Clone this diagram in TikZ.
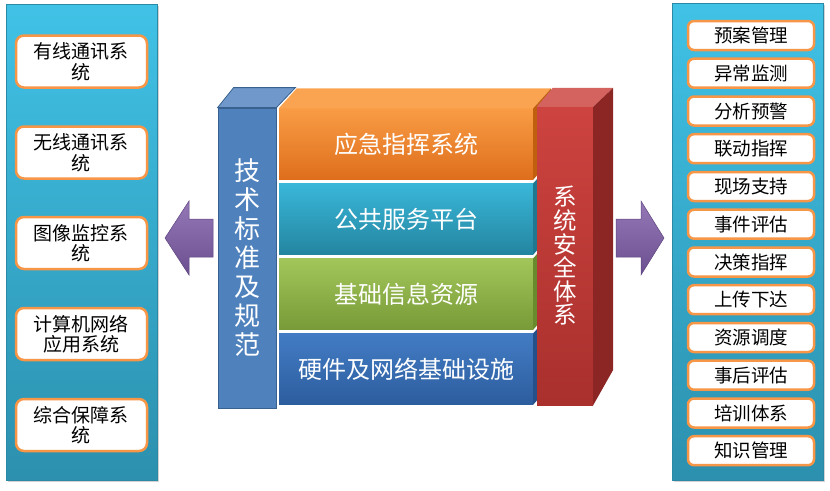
\documentclass[tikz,border=0pt]{standalone}
\usepackage{fontspec}
\newfontfamily\cjk{Noto Sans CJK SC}
\usepackage{xcolor}
\usepackage{tikz}
\usetikzlibrary{calc, shadows}

\definecolor{panelTop}{HTML}{40C2E6}
\definecolor{panelBot}{HTML}{2C90AE}
\definecolor{panelEdge}{HTML}{2A8AA6}
\definecolor{boxEdge}{HTML}{F79646}
\definecolor{stdFront}{HTML}{4F81BD}
\definecolor{stdTop}{HTML}{7098CB}
\definecolor{stdEdge}{HTML}{38618F}
\definecolor{orTop}{HTML}{F99C45}
\definecolor{orBot}{HTML}{DE6E1C}
\definecolor{orRoof}{HTML}{FAA451}
\definecolor{orSide}{HTML}{C0600F}
\definecolor{tlTop}{HTML}{3AB7D9}
\definecolor{tlBot}{HTML}{2385A0}
\definecolor{tlSide}{HTML}{1F7790}
\definecolor{grTop}{HTML}{A3C65A}
\definecolor{grBot}{HTML}{789A38}
\definecolor{grSide}{HTML}{6A8A2E}
\definecolor{blTop}{HTML}{437CC4}
\definecolor{blBot}{HTML}{2C5D9E}
\definecolor{blSide}{HTML}{25508A}
\definecolor{rdTop}{HTML}{CD433F}
\definecolor{rdBot}{HTML}{A9302D}
\definecolor{rdRoof}{HTML}{D4625E}
\definecolor{rdSide}{HTML}{8C2624}
\definecolor{arTop}{HTML}{9478B6}
\definecolor{arBot}{HTML}{6B4F90}
\definecolor{arEdge}{HTML}{5E467F}

\begin{document}
\begin{tikzpicture}[
    x=1pt, y=-1pt,
    font=\cjk
]
    \useasboundingbox (0,0) rectangle (830,490);

    % Styles for panels and boxes
    \tikzstyle{panel} = [draw=panelEdge, line width=0.8pt, rectangle, top color=panelTop, bottom color=panelBot, minimum width=151pt, drop shadow={opacity=0.35, shadow xshift=1.5pt, shadow yshift=-2pt}]
    \tikzstyle{sysbox} = [draw=boxEdge, line width=2.5pt, fill=white, rounded corners=8pt, minimum width=131pt, minimum height=52pt, inner sep=1pt, align=center, font={\cjk\fontsize{19}{20.5}\selectfont}]
    \tikzstyle{taskbox} = [sysbox, minimum width=126pt, minimum height=29pt, rounded corners=6pt, font={\cjk\fontsize{18.5}{20}\selectfont}]
    \tikzstyle{layer} = [rectangle, minimum width=254pt, minimum height=71pt, inner sep=0pt, text=white, font={\cjk\fontsize{24}{28}\selectfont}]
    \tikzstyle{pillar} = [rectangle, inner sep=0pt, align=center, text=white]

    % Panels
    \node [panel, minimum height=476pt] (SysPanel) at (81.5,242) {};
    \node [panel, minimum height=477pt] (TaskPanel) at (747.5,241.5) {};

    % Left boxes (systems)
    \node [sysbox] (Wired) at (81.5,61.5) {有线通讯系\\统};
    \node [sysbox] (Wireless) at (81.5,152.5) {无线通讯系\\统};
    \node [sysbox] (Video) at (81.5,243) {图像监控系\\统};
    \node [sysbox] (Network) at (81.5,334) {计算机网络\\应用系统};
    \node [sysbox] (Support) at (81.5,425) {综合保障系\\统};

    % Right boxes (functions)
    \node [taskbox] (Plan) at (751,35.5) {预案管理};
    \node [taskbox] (Monitor) at (751,73.2) {异常监测};
    \node [taskbox] (Warn) at (751,111) {分析预警};
    \node [taskbox] (Link) at (751,148.7) {联动指挥};
    \node [taskbox] (Scene) at (751,186.5) {现场支持};
    \node [taskbox] (Assess) at (751,224.2) {事件评估};
    \node [taskbox] (Decide) at (751,262) {决策指挥};
    \node [taskbox] (Relay) at (751,299.7) {上传下达};
    \node [taskbox] (Dispatch) at (751,337.5) {资源调度};
    \node [taskbox] (Review) at (751,375.2) {事后评估};
    \node [taskbox] (Train) at (751,413) {培训体系};
    \node [taskbox] (Know) at (751,450.7) {知识管理};

    % Standards column (left of the stack)
    \node [pillar, minimum width=58pt, minimum height=300pt, fill=stdFront, draw=stdEdge, line width=0.8pt,
           font={\cjk\fontsize{26}{29}\selectfont}] (TechStd) at (247,258) {技\\术\\标\\准\\及\\规\\范};
    \fill [stdTop, draw=stdEdge, line width=0.8pt] (TechStd.north west) -- ++(16,-20) -- ($(TechStd.north east)+(19,-20)$) -- (TechStd.north east) -- cycle;

    % Layers
    \node [layer, top color=orTop, bottom color=orBot] (Cmd) at (406,144) {应急指挥系统};
    \node [layer, top color=tlTop, bottom color=tlBot] (Service) at (406,219) {公共服务平台};
    \node [layer, top color=grTop, bottom color=grBot] (Info) at (406,294) {基础信息资源};
    \node [layer, top color=blTop, bottom color=blBot] (Infra) at (406,369) {硬件及网络基础设施};

    \fill [orRoof] (Cmd.north west) -- ++(18,-20) -- ($(Cmd.north east)+(18,-20)$) -- (Cmd.north east) -- cycle;
    \fill [orSide] (Cmd.north east) -- ++(18,-20) -- ++(0,71) -- (Cmd.south east) -- cycle;
    \fill [tlSide] (Service.north east) -- ++(18,-20) -- ++(0,71) -- (Service.south east) -- cycle;
    \fill [grSide] (Info.north east) -- ++(18,-20) -- ++(0,71) -- (Info.south east) -- cycle;
    \fill [blSide] (Infra.north east) -- ++(18,-20) -- ++(0,71) -- (Infra.south east) -- cycle;

    % Security column (right of the stack)
    \node [pillar, minimum width=56pt, minimum height=298pt, top color=rdTop, bottom color=rdBot,
           font={\cjk\fontsize{23.5}{23.6}\selectfont}] (Security) at (565,256) {系\\统\\安\\全\\体\\系};
    \fill [rdRoof] (Security.north west) -- ++(16,-19) -- ($(Security.north east)+(20,-19)$) -- (Security.north east) -- cycle;
    \fill [rdSide] (Security.north east) -- ++(20,-19) -- ++(0,282) -- (Security.south east) -- cycle;

    % Arrows
    \shade [top color=arTop, bottom color=arBot, draw=arEdge, line width=0.5pt]
        (165,238) -- (189,201) -- (189,219) -- (213,219) -- (213,257) -- (189,257) -- (189,275) -- cycle;
    \shade [top color=arTop, bottom color=arBot, draw=arEdge, line width=0.5pt]
        (664,238) -- (641,201) -- (641,219) -- (616,219) -- (616,257) -- (641,257) -- (641,275) -- cycle;

\end{tikzpicture}
\end{document}
